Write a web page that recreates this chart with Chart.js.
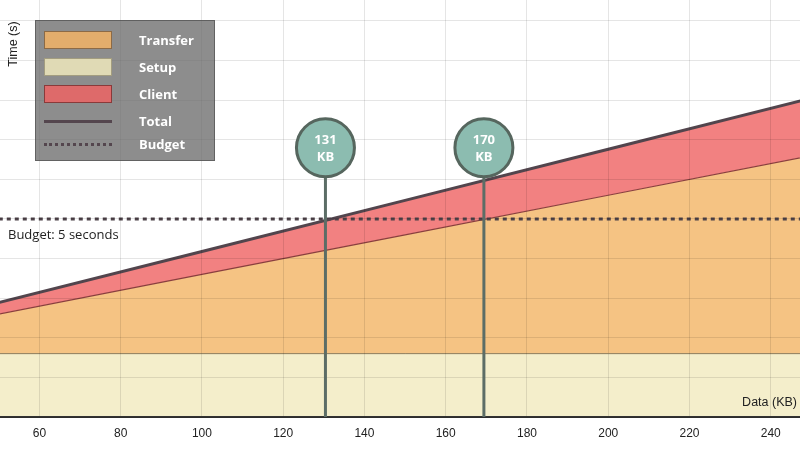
<!DOCTYPE html>
<html>
<head>
<meta charset="utf-8">
<script src="https://cdn.jsdelivr.net/npm/chart.js@4.4.0/dist/chart.umd.min.js"></script>
<style>
  body { margin: 0; background: #fff; }
  #wrap { position: relative; width: 800px; height: 460px; }
  #legend {
    position: absolute; left: 35px; top: 20px; width: 178px; height: 139px;
    background: rgba(105, 105, 105, 0.76); border: 1px solid rgba(70, 70, 70, 0.6);
    font: bold 13px "Open Sans", sans-serif; color: #fff;
  }
  .sw { position: absolute; left: 8px; width: 66px; height: 16px; border: 1px solid; }
  .ln { position: absolute; left: 8px; width: 68px; height: 0; }
  .lab { position: absolute; left: 103px; line-height: 18px; }
</style>
</head>
<body>
<div id="wrap">
  <canvas id="chart"></canvas>
  <div id="legend"></div>
</div>
<script>
// data (KB -> seconds)
const dataKB = [50, 100, 150, 200, 250];
const setupTime = [1.6, 1.6, 1.6, 1.6, 1.6];
const transferTime = [1.0, 2.0, 3.0, 4.0, 5.0];
const clientTime = [0.29, 0.58, 0.87, 1.16, 1.45];
const totalTime = [2.89, 4.18, 5.47, 6.76, 8.05];
const budgetTime = [5, 5, 5, 5, 5];
const budget = 5;

const markerKB = [130.4, 169.4];
const markerLabels = ['131', '170'];
const markerTime = 6.8;

const xTicks = [60, 80, 100, 120, 140, 160, 180, 200, 220, 240];
const legendLabels = ['Transfer', 'Setup', 'Client', 'Total', 'Budget'];

const pts = (vals) => dataKB.map((kb, i) => ({ x: kb, y: vals[i] }));

// legend box
const legend = document.getElementById('legend');
const swatches = [
  { bg: '#e3ad6c', bd: '#8c6a46' },
  { bg: '#e0dab5', bd: '#a39d80' },
  { bg: '#de6a6a', bd: '#8a3a3a' }
];
legendLabels.forEach((name, i) => {
  const top = i < 3 ? 10 + i * 27 : (i === 3 ? 100 : 123);
  if (i < 3) {
    const s = document.createElement('div');
    s.className = 'sw';
    s.style.top = top + 'px';
    s.style.background = swatches[i].bg;
    s.style.borderColor = swatches[i].bd;
    legend.appendChild(s);
  } else {
    const l = document.createElement('div');
    l.className = 'ln';
    l.style.top = (top - 1.5) + 'px';
    l.style.borderTop = i === 3 ? '3px solid #54464e' : '3px dotted #54464e';
    legend.appendChild(l);
  }
  const t = document.createElement('div');
  t.className = 'lab';
  t.textContent = name;
  t.style.top = (i < 3 ? top : top - 9) + 'px';
  legend.appendChild(t);
});

const overlay = {
  id: 'overlay',
  afterDraw(chart) {
    const { ctx, scales: { x, y } } = chart;
    ctx.save();

    ctx.fillStyle = '#222';
    ctx.textBaseline = 'middle';
    ctx.font = '13px "Open Sans", sans-serif';
    ctx.textAlign = 'left';
    ctx.fillText('Budget: ' + budget + ' seconds', 8, y.getPixelForValue(budget) + 16);

    ctx.font = '12.5px "Liberation Sans", Arial, sans-serif';
    ctx.textAlign = 'right';
    ctx.fillText('Data (KB)', 797, y.getPixelForValue(0) - 14);

    ctx.save();
    ctx.translate(14, 44);
    ctx.rotate(-Math.PI / 2);
    ctx.textAlign = 'center';
    ctx.fillText('Time (s)', 0, 0);
    ctx.restore();

    // markers
    const r = 29;
    markerKB.forEach((kb, i) => {
      const px = x.getPixelForValue(kb);
      const py = y.getPixelForValue(markerTime);
      ctx.strokeStyle = '#5c6d66';
      ctx.lineWidth = 3;
      ctx.beginPath();
      ctx.moveTo(px, py + r);
      ctx.lineTo(px, y.getPixelForValue(0));
      ctx.stroke();

      ctx.beginPath();
      ctx.arc(px, py, r, 0, Math.PI * 2);
      ctx.fillStyle = '#8cbcb0';
      ctx.fill();
      ctx.strokeStyle = '#56665e';
      ctx.lineWidth = 3;
      ctx.stroke();

      ctx.fillStyle = '#fff';
      ctx.font = 'bold 13px "Open Sans", sans-serif';
      ctx.textAlign = 'center';
      ctx.fillText(markerLabels[i], px, py - 7);
      ctx.fillText('KB', px, py + 10);
    });
    ctx.restore();
  }
};

new Chart(document.getElementById('chart'), {
  type: 'line',
  data: {
    datasets: [
      {
        label: 'Setup', data: pts(setupTime), stack: 'time', order: 10,
        fill: 'origin', backgroundColor: '#f4eecb', borderColor: '#8c7c5c', borderWidth: 1
      },
      {
        label: 'Transfer', data: pts(transferTime), stack: 'time', order: 11,
        fill: '-1', backgroundColor: '#f5c383', borderColor: '#8a3e3e', borderWidth: 1.2
      },
      {
        label: 'Client', data: pts(clientTime), stack: 'time', order: 12,
        fill: '-1', backgroundColor: '#f28181', borderWidth: 0
      },
      {
        label: 'Total', data: pts(totalTime), stack: 'total', order: 0,
        fill: false, borderColor: '#52454d', borderWidth: 3
      },
      {
        label: 'Budget', data: pts(budgetTime), stack: 'budget', order: 1,
        fill: false, borderColor: '#4d4249', borderWidth: 3, borderDash: [4, 4]
      }
    ]
  },
  options: {
    responsive: true,
    maintainAspectRatio: false,
    animation: false,
    layout: { padding: 0 },
    elements: { point: { radius: 0 }, line: { tension: 0 } },
    plugins: { legend: { display: false }, tooltip: { enabled: false } },
    scales: {
      x: {
        type: 'linear', min: 50.3, max: 247.2,
        afterBuildTicks: (s) => { s.ticks = xTicks.map(v => ({ value: v })); },
        afterFit: (s) => { s.height = 43; },
        grid: { color: 'rgba(0,0,0,0.1)', drawTicks: false, z: 1 },
        border: { color: '#333', width: 2, z: 1 },
        ticks: { padding: 9, color: '#222', font: { family: '"Liberation Sans", Arial', size: 12 } }
      },
      y: {
        stacked: true, min: 0, max: 10.53,
        afterBuildTicks: (s) => { s.ticks = s.ticks.filter(t => Number.isInteger(t.value)); },
        afterFit: (s) => { s.width = 0; },
        grid: { color: 'rgba(0,0,0,0.1)', drawTicks: false, z: 1 },
        border: { display: false },
        ticks: { display: false, stepSize: 1 }
      }
    }
  },
  plugins: [overlay]
});
</script>
</body>
</html>
